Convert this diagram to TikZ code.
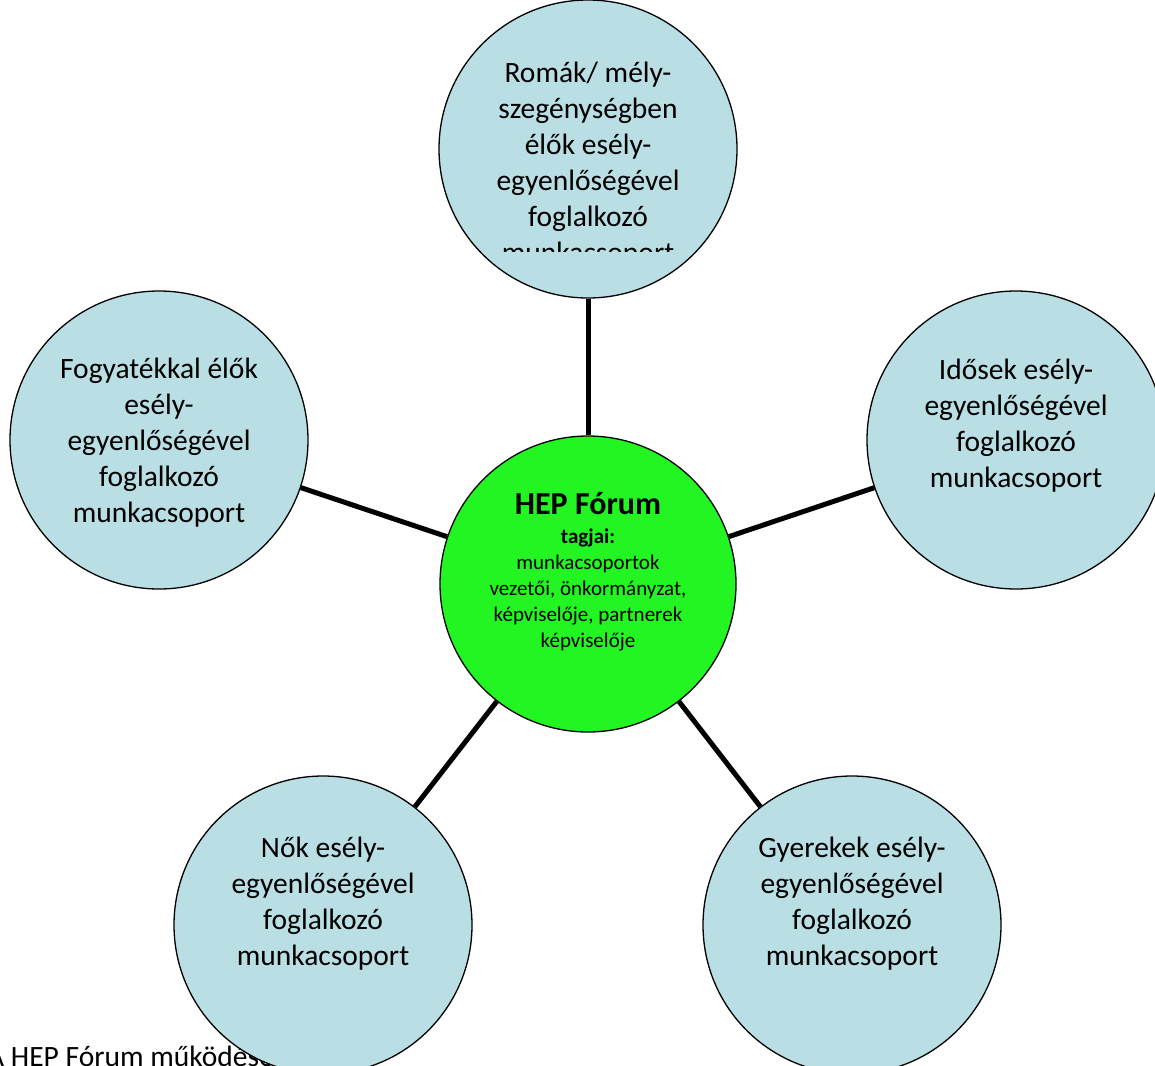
\documentclass[tikz,border=0pt]{standalone}
\usepackage{fontspec}
\setmainfont{Carlito}
\definecolor{lightaqua}{HTML}{B9DFE4}
\definecolor{hepgreen}{HTML}{22F522}
\tikzset{
  group/.style={circle, draw=black, line width=1.3pt, fill=lightaqua, minimum size=298pt, inner sep=0pt},
  forum/.style={circle, draw=black, line width=1.3pt, fill=hepgreen, minimum size=296pt, inner sep=0pt},
  grouptext/.style={align=center, inner sep=0pt, font=\fontsize{29.5}{36}\selectfont},
  link/.style={line width=5pt},
}
\begin{document}
\begin{tikzpicture}[x=1pt,y=-1pt]
\clip (0,0) rectangle (1155,1065);
\fill[white] (0,0) rectangle (1155,1065);
% caption (partly covered)
\node[anchor=base west, inner sep=0pt, font=\fontsize{29.5}{36}\selectfont] (cap) at (-13,1066) {A HEP Fórum működése};
% circles
\node[group] (top) at (588,149) {};
\node[group] (left) at (159,440) {};
\node[group] (right) at (1016,440) {};
\node[group] (bl) at (323,925) {};
\node[group] (br) at (852,925) {};
\node[forum] (hep) at (588,584) {};
% connectors
\draw[link] (top) -- (hep);
\draw[link] (left) -- (hep);
\draw[link] (right) -- (hep);
\draw[link] (bl) -- (hep);
\draw[link] (br) -- (hep);
% texts
\begin{scope}
\clip (430,0) rectangle (750,251);
\node[grouptext] (toptext) at (588,165) {Romák/ mély-\\szegénységben\\élők esély-\\egyenlőségével\\foglalkozó\\munkacsoport};
\end{scope}
\node[grouptext] (lefttext) at (159,443) {Fogyatékkal élők\\esély-\\egyenlőségével\\foglalkozó\\munkacsoport};
\node[grouptext] (righttext) at (1016,426) {Idősek esély-\\egyenlőségével\\foglalkozó\\munkacsoport};
\node[grouptext] (bltext) at (323,904) {Nők esély-\\egyenlőségével\\foglalkozó\\munkacsoport};
\node[grouptext] (brtext) at (852,904) {Gyerekek esély-\\egyenlőségével\\foglalkozó\\munkacsoport};
\node[align=center, inner sep=0pt, font=\fontsize{21}{26}\selectfont] (heptext) at (588,572) {{\fontsize{32}{36}\selectfont\bfseries HEP Fórum}\\[3pt]
{\bfseries tagjai:}\\
munkacsoportok\\
vezetői, önkormányzat,\\
képviselője, partnerek\\
képviselője};
\end{tikzpicture}
\end{document}
